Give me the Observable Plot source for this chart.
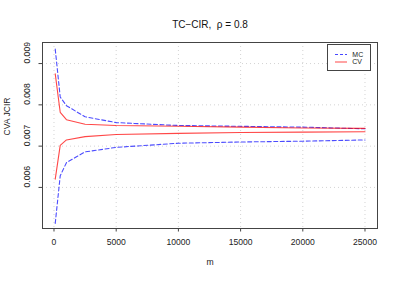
<!DOCTYPE html>
<html>
<head>
<meta charset="utf-8">
<script src="https://cdn.jsdelivr.net/npm/d3@7"></script>
<script src="https://cdn.jsdelivr.net/npm/@observablehq/plot@0.6"></script>
<style>
  body { margin: 0; background: #fff; }
  #c { position: relative; width: 399px; height: 281px; font-family: "Liberation Sans", Arial, sans-serif; }
  #legend { position: absolute; left: 0; top: 0; }
</style>
</head>
<body>
<div id="c"></div>
<script>
// Sample sizes
const m = [100, 500, 1000, 2500, 5000, 10000, 15000, 20000, 25000];
// Monte Carlo (MC) confidence bounds
const mcUpper = [0.00935, 0.00819, 0.00798, 0.00771, 0.00757, 0.00750, 0.00748, 0.00746, 0.00742];
const mcLower = [0.00513, 0.00628, 0.00660, 0.00686, 0.00697, 0.00707, 0.00710, 0.00712, 0.00715];
// Control variate (CV) confidence bounds
const cvUpper = [0.00875, 0.00782, 0.00764, 0.00753, 0.00750, 0.00748, 0.00746, 0.00744, 0.00743];
const cvLower = [0.00620, 0.00702, 0.00715, 0.00723, 0.00728, 0.00731, 0.00733, 0.00734, 0.00735];
// Tick values
const xTicks = [0, 5000, 10000, 15000, 20000, 25000];
const yTicks = [0.006, 0.007, 0.008, 0.009];
const seriesNames = ["MC", "CV"];
const seriesColors = ["blue", "red"];
const titleText = "TC\u2212CIR,  \u03c1 = 0.8";

const mcRows = [];
const cvRows = [];
m.forEach((v, i) => {
  mcRows.push({m: v, value: mcUpper[i], bound: "upper"});
  mcRows.push({m: v, value: mcLower[i], bound: "lower"});
  cvRows.push({m: v, value: cvUpper[i], bound: "upper"});
  cvRows.push({m: v, value: cvLower[i], bound: "lower"});
});

const gridStyle = {stroke: "#d3d3d3", strokeOpacity: 1, strokeDasharray: "1,3"};

const plot = Plot.plot({
  width: 399,
  height: 281,
  marginLeft: 42,
  marginRight: 22,
  marginTop: 42,
  marginBottom: 53,
  style: {fontFamily: "'Liberation Sans', Arial, sans-serif", fontSize: "8.6px", background: "#fff", color: "#222"},
  x: {domain: [-924, 26005]},
  y: {domain: [0.005005, 0.00951]},
  marks: [
    Plot.gridX(xTicks, gridStyle),
    Plot.gridY(yTicks, gridStyle),
    Plot.line(mcRows, {x: "m", y: "value", z: "bound", stroke: seriesColors[0], strokeOpacity: 0.7, strokeWidth: 1.1, strokeDasharray: "4,2.5"}),
    Plot.line(cvRows, {x: "m", y: "value", z: "bound", stroke: seriesColors[1], strokeOpacity: 0.72, strokeWidth: 1.1}),
    Plot.frame({stroke: "#444"}),
    Plot.axisX(xTicks, {anchor: "bottom", tickSize: 3.5, tickFormat: () => "", label: null, stroke: "#444"}),
    Plot.axisY(yTicks, {anchor: "left", tickSize: 3.5, tickFormat: () => "", label: null, stroke: "#444"}),
    Plot.text(xTicks, {x: d => d, frameAnchor: "bottom", dy: 16, text: d => String(d), fill: "#222"}),
    Plot.text(yTicks, {y: d => d, frameAnchor: "left", rotate: -90, dx: -15, text: d => d3.format(".3f")(d), fill: "#222"}),
    Plot.text([titleText], {frameAnchor: "top", dy: -22, fontSize: 10, fill: "#111"}),
    Plot.text(["CVA JCIR"], {frameAnchor: "left", rotate: -90, dx: -35, fill: "#222"}),
    Plot.text(["m"], {frameAnchor: "bottom", dy: 36, fill: "#222"})
  ]
});

const c = document.getElementById("c");
c.appendChild(plot);

// Legend overlay
const lg = d3.select(c).append("svg")
  .attr("id", "legend")
  .attr("width", 399).attr("height", 281);
lg.append("rect")
  .attr("x", 327.5).attr("y", 44.5).attr("width", 43).attr("height", 26)
  .attr("fill", "#fff").attr("stroke", "#444");
seriesNames.forEach((name, i) => {
  const yy = 54.5 + i * 7.5;
  lg.append("line")
    .attr("x1", 335).attr("x2", 347).attr("y1", yy).attr("y2", yy)
    .attr("stroke", seriesColors[i]).attr("stroke-opacity", 0.72).attr("stroke-width", 1)
    .attr("stroke-dasharray", i === 0 ? "3,2" : null);
  lg.append("text")
    .attr("x", 352.3).attr("y", yy).attr("dy", "0.35em")
    .attr("font-size", "7px").attr("fill", "#222")
    .attr("font-family", "'Liberation Sans', Arial, sans-serif")
    .text(name);
});
</script>
</body>
</html>
